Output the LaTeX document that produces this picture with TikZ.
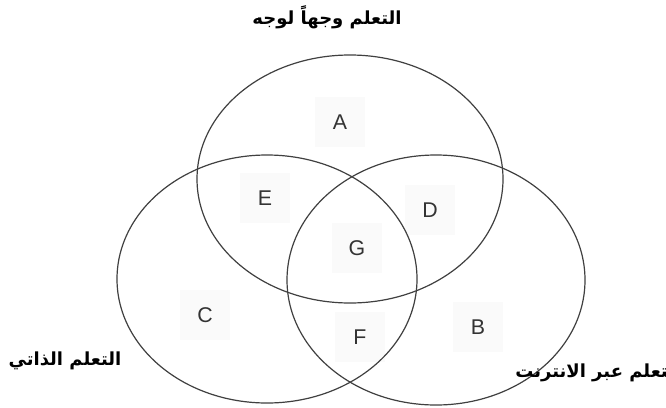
\documentclass[tikz,border=0pt]{standalone}
\usepackage{fontspec}
\setmainfont{Liberation Sans}
\newfontfamily\arabicfont[Script=Arabic]{DejaVu Sans}
\TeXXeTstate=1
\begin{document}
\begin{tikzpicture}[x=0.75pt,y=-0.75pt,
  setring/.style={draw=black!75,line width=0.9pt},
  region/.style={font=\fontsize{16}{18}\selectfont,text=black!80,fill=black!2,minimum width=38pt,minimum height=38pt,inner sep=0pt},
  setlabel/.style={font=\arabicfont\bfseries\fontsize{13.5}{15}\selectfont,inner sep=0pt}]
\useasboundingbox (0,0) rectangle (666,407);
\fill[white] (0,0) rectangle (666,407);
% regions (faint boxes behind letters)
\node[region] (A) at (340,122) {A};
\node[region] (E) at (265,198) {E};
\node[region] (D) at (430,210) {D};
\node[region] (G) at (357,248) {G};
\node[region] (C) at (205,315) {C};
\node[region] (F) at (360,337) {F};
\node[region] (B) at (478,327) {B};
% the three sets
\draw[setring] (350,179) ellipse [x radius=153, y radius=124];
\draw[setring] (267,279) ellipse [x radius=150, y radius=124];
\draw[setring] (436,280) ellipse [x radius=149, y radius=125];
% labels
\node[setlabel] (ltop) at (327,17) {\beginR التعلم وجهاً لوجه\endR};
\node[setlabel] (lleft) at (65,361) {\beginR التعلم الذاتي\endR};
\node[setlabel,anchor=west] (lright) at (515,373) {\beginR التعلم عبر الانترنت\endR};
\end{tikzpicture}
\end{document}
